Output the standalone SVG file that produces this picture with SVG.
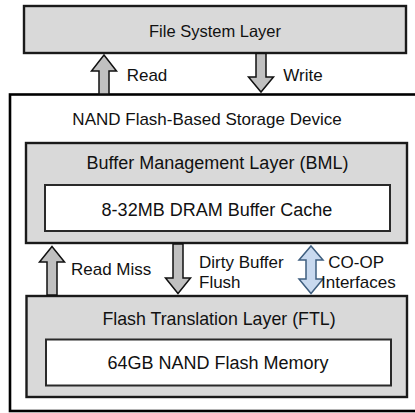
<svg xmlns="http://www.w3.org/2000/svg" width="415" height="413" viewBox="0 0 415 413">
  <style>
    text { font-family: "Liberation Sans", Arial, sans-serif; fill: #111; }
    .mid { text-anchor: middle; }
    .layer { fill: #d9d9d9; stroke: #1a1a1a; stroke-width: 2.4; }
    .inner { fill: #ffffff; stroke: #2a2a2a; stroke-width: 2; }
    .outer { fill: #ffffff; stroke: #000; stroke-width: 2.6; }
    .arrow { fill: #c0c0c0; stroke: #111; stroke-width: 1.5; stroke-linejoin: miter; }
    .arrow-blue { fill: #c8d9ef; stroke: #3f5f80; stroke-width: 1.5; stroke-linejoin: miter; }
    .lbl { font-size: 17px; }
  </style>

  <!-- storage device enclosure -->
  <g id="storage-device">
    <rect class="outer" x="10" y="94.5" width="412" height="316.5"/>
    <text class="mid" x="207" y="124.5" font-size="17">NAND Flash-Based Storage Device</text>
  </g>

  <!-- host side -->
  <g id="file-system-layer">
    <rect class="layer" x="24" y="6" width="382" height="47"/>
    <text class="mid" x="215" y="36.5" font-size="16.5">File System Layer</text>
  </g>

  <!-- buffer management layer with its DRAM cache -->
  <g id="bml">
    <rect class="layer" x="26" y="143" width="381" height="100"/>
    <text class="mid" x="217.5" y="169.3" font-size="18">Buffer Management Layer (BML)</text>
  </g>
  <g id="dram-cache">
    <rect class="inner" x="45" y="185" width="345" height="46"/>
    <text class="mid" x="217" y="216" font-size="18">8-32MB DRAM Buffer Cache</text>
  </g>

  <!-- flash translation layer with NAND memory -->
  <g id="ftl">
    <rect class="layer" x="26.5" y="296" width="380.5" height="101"/>
    <text class="mid" x="219" y="325" font-size="17.8">Flash Translation Layer (FTL)</text>
  </g>
  <g id="nand-memory">
    <rect class="inner" x="46" y="339.5" width="345" height="46"/>
    <text class="mid" x="218" y="369" font-size="18">64GB NAND Flash Memory</text>
  </g>

  <!-- block arrows between layers -->
  <g id="connectors">
    <g id="read">
      <polygon class="arrow" points="104,55 116.5,71 109,71 109,94 99,94 99,71 91.5,71"/>
      <text class="lbl" x="126.7" y="81" font-size="17.5">Read</text>
    </g>
    <g id="write">
      <polygon class="arrow" points="256,53.5 266,53.5 266,77 273.5,77 261,92 248.5,77 256,77"/>
      <text class="lbl" x="283.3" y="81" font-size="17.5">Write</text>
    </g>
    <g id="read-miss">
      <polygon class="arrow" points="52,246.5 64.5,262 57,262 57,295 47,295 47,262 39.5,262"/>
      <text class="lbl" x="71" y="275" font-size="17.5">Read Miss</text>
    </g>
    <g id="dirty-flush">
      <polygon class="arrow" points="173,244 183,244 183,278 190.5,278 178,293.5 165.5,278 173,278"/>
      <text class="lbl" x="199" y="267.5">Dirty Buffer</text>
      <text class="lbl" x="199" y="287.5">Flush</text>
    </g>
    <g id="co-op">
      <polygon class="arrow-blue" points="311,246 323,260 316,260 316,279 323,279 311,293.5 299,279 306,279 306,260 299,260"/>
      <text class="lbl" x="328.3" y="267.5" font-size="17.5">CO-OP</text>
      <text class="lbl" x="321" y="287.5">Interfaces</text>
    </g>
  </g>
</svg>
